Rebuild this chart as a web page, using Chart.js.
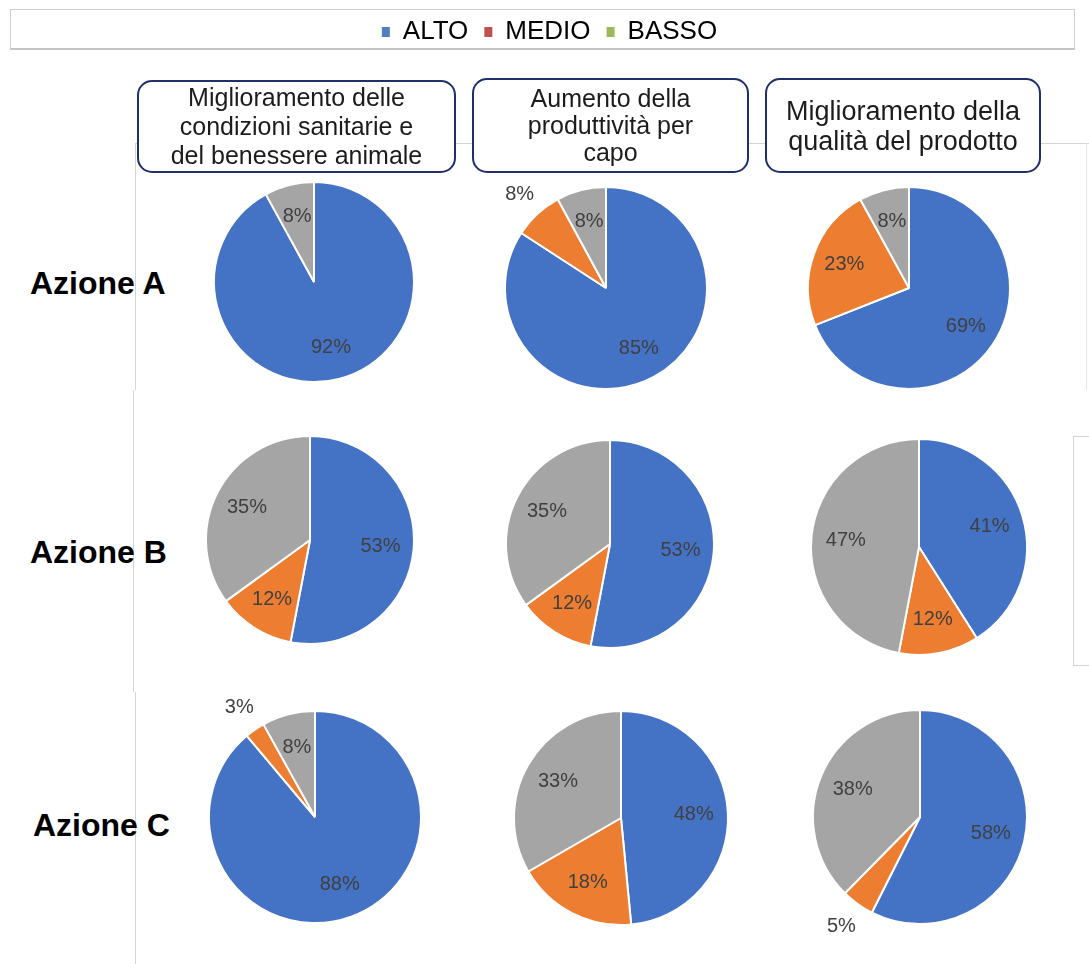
<!DOCTYPE html>
<html>
<head>
<meta charset="utf-8">
<script src="https://cdn.jsdelivr.net/npm/chart.js"></script>
<style>
  body { margin: 0; background: #fff; width: 1089px; height: 964px; position: relative; overflow: hidden;
         font-family: "Liberation Sans", Arial, sans-serif; }
  canvas { position: absolute; }
  .linea { position: absolute; background: #d4d4d4; }
  .legenda-box { position: absolute; left: 10px; top: 9px; width: 1065px; height: 41px; box-sizing: border-box;
                 border: 1px solid #cfcfcf; border-bottom: 2px solid #c4c4c4; background: #fff; }
  .titolo { position: absolute; box-sizing: border-box; border: 2px solid #1f2f6b; border-radius: 15px; background: #fff;
            display: flex; align-items: center; justify-content: center; text-align: center; color: #1c1c1c; }
  .azione { position: absolute; font-weight: bold; font-size: 32px; line-height: 36px; color: #000; white-space: nowrap; }
</style>
</head>
<body>
<div id="pagina"></div>
<script>
// ─── DATI ───────────────────────────────────────────────
var CATEGORIE = ['ALTO', 'MEDIO', 'BASSO'];
var COLORI_LEGENDA = ['#4F81BD', '#C0504D', '#9BBB59'];
var COLORI_FETTE = ['#4472C4', '#ED7D31', '#A5A5A5'];

var AZIONI = ['Azione A', 'Azione B', 'Azione C'];
var OBIETTIVI = [
  ['Miglioramento delle', 'condizioni sanitarie e', 'del benessere animale'],
  ['Aumento della', 'produttività per', 'capo'],
  ['Miglioramento della', 'qualità del prodotto']
];

// valori % [ALTO, MEDIO, BASSO] per obiettivo (sanitarie, produttività, qualità)
var AZIONE_A = [[92, 0, 8], [85, 8, 8], [69, 23, 8]];
var AZIONE_B = [[53, 12, 35], [53, 12, 35], [41, 12, 47]];
var AZIONE_C = [[88, 3, 8], [48, 18, 33], [58, 5, 38]];

// ─── LAYOUT (centro x, centro y, raggio) ────────────────
var POS_TORTE = [
  [[314, 282, 100], [606, 288, 101], [909, 288, 101]],
  [[310, 540, 104], [610, 544, 104], [919, 547, 108]],
  [[315, 817, 106], [621, 818, 107], [920, 817, 107]]
];
// fette con etichetta esterna: [riga, colonna, indice fetta]
var ETICHETTE_FUORI = [[0, 1, 1], [2, 0, 1], [2, 2, 1]];
var POS_AZIONI = [[30, 265], [30, 534], [33, 807]];
var BOX_TITOLI = [[137, 80, 319, 93, 25, 29], [472, 78, 277, 95, 25, 27], [765, 78, 276, 95, 27, 30]];

var pagina = document.getElementById('pagina');
var LATO = 300;

function aggiungi(tag, cls, stile) {
  var el = document.createElement(tag);
  if (cls) el.className = cls;
  if (stile) el.style.cssText = stile;
  pagina.appendChild(el);
  return el;
}

// linee grigie di sfondo
aggiungi('div', 'linea', 'left:135px;top:143px;width:954px;height:1px;');
aggiungi('div', 'linea', 'left:135px;top:143px;width:1px;height:247px;');
aggiungi('div', 'linea', 'left:133px;top:390px;width:1px;height:302px;');
aggiungi('div', 'linea', 'left:135px;top:692px;width:1px;height:272px;');
aggiungi('div', 'linea', 'left:1086px;top:143px;width:1px;height:247px;background:#e4e4e4;');
aggiungi('div', 'linea', 'left:1073px;top:436px;width:1px;height:229px;');
aggiungi('div', 'linea', 'left:1073px;top:436px;width:16px;height:1px;');
aggiungi('div', 'linea', 'left:1073px;top:665px;width:16px;height:1px;');

// ─── LEGENDA ────────────────────────────────────────────
aggiungi('div', 'legenda-box');
var cvLeg = aggiungi('canvas', null, 'left:5px;top:3px;');
cvLeg.width = 1089; cvLeg.height = 140;
new Chart(cvLeg.getContext('2d'), {
  type: 'pie',
  data: { labels: CATEGORIE, datasets: [{ data: CATEGORIE.map(function() { return 0; }), backgroundColor: COLORI_LEGENDA }] },
  options: {
    responsive: false, animation: false, events: [],
    plugins: {
      tooltip: { enabled: false },
      legend: {
        position: 'top',
        labels: {
          color: '#000', boxWidth: 8, boxHeight: 10, padding: 16,
          font: { size: 26, family: '"Liberation Sans", Arial, sans-serif' },
          generateLabels: function() {
            return CATEGORIE.map(function(c, i) {
              return { text: c, fillStyle: COLORI_LEGENDA[i], strokeStyle: COLORI_LEGENDA[i], lineWidth: 0, hidden: false, index: i };
            });
          }
        }
      }
    }
  }
});

// ─── TITOLI COLONNE ─────────────────────────────────────
OBIETTIVI.forEach(function(righe, j) {
  var b = BOX_TITOLI[j];
  var el = aggiungi('div', 'titolo', 'left:' + b[0] + 'px;top:' + b[1] + 'px;width:' + b[2] + 'px;height:' + b[3] + 'px;' +
    'font-size:' + b[4] + 'px;line-height:' + b[5] + 'px;');
  el.innerHTML = righe.join('<br>');
});

// ─── ETICHETTE RIGHE ────────────────────────────────────
AZIONI.forEach(function(nome, i) {
  var el = aggiungi('div', 'azione', 'left:' + POS_AZIONI[i][0] + 'px;top:' + POS_AZIONI[i][1] + 'px;');
  el.textContent = nome;
});

// ─── ETICHETTE PERCENTUALI SULLE FETTE ──────────────────
var pluginEtichette = {
  id: 'etichette',
  afterDatasetsDraw: function(chart, args, opts) {
    var ctx = chart.ctx;
    var dati = chart.data.datasets[0].data;
    var fuori = opts.fuori || [];
    ctx.save();
    ctx.font = '20px "Liberation Sans", Arial, sans-serif';
    ctx.fillStyle = '#404040';
    ctx.textAlign = 'center';
    ctx.textBaseline = 'middle';
    chart.getDatasetMeta(0).data.forEach(function(arc, i) {
      if (!dati[i]) return;
      var p = arc.getProps(['x', 'y', 'startAngle', 'endAngle', 'outerRadius'], true);
      var mid = (p.startAngle + p.endAngle) / 2;
      var k = fuori.indexOf(i) >= 0 ? 1.26 : 0.68;
      ctx.fillText(dati[i] + '%', p.x + Math.cos(mid) * p.outerRadius * k, p.y + Math.sin(mid) * p.outerRadius * k);
    });
    ctx.restore();
  }
};

// ─── TORTE ──────────────────────────────────────────────
[AZIONE_A, AZIONE_B, AZIONE_C].forEach(function(riga, i) {
  riga.forEach(function(valori, j) {
    var pos = POS_TORTE[i][j];
    var cv = aggiungi('canvas', null, 'left:' + (pos[0] - LATO / 2) + 'px;top:' + (pos[1] - LATO / 2) + 'px;');
    cv.width = LATO; cv.height = LATO;
    var fuori = ETICHETTE_FUORI.filter(function(f) { return f[0] === i && f[1] === j; }).map(function(f) { return f[2]; });
    new Chart(cv.getContext('2d'), {
      type: 'pie',
      data: {
        labels: CATEGORIE,
        datasets: [{ data: valori, backgroundColor: COLORI_FETTE, borderColor: '#fff', borderWidth: 2 }]
      },
      options: {
        responsive: false, animation: false, events: [],
        layout: { padding: (LATO - 2) / 2 - pos[2] },
        plugins: { legend: { display: false }, tooltip: { enabled: false }, etichette: { fuori: fuori } }
      },
      plugins: [pluginEtichette]
    });
  });
});
</script>
</body>
</html>
